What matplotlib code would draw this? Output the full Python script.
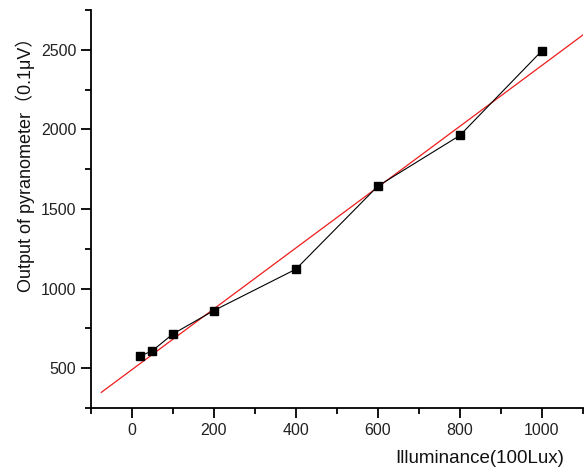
import numpy as np
import matplotlib.pyplot as plt
from matplotlib.ticker import MultipleLocator

# data
illuminance = [20, 50, 100, 200, 400, 600, 800, 1000]
output = [575, 610, 715, 862, 1122, 1644, 1962, 2494]
fit_range = [-75, 1100]

plt.rcParams['font.family'] = ['Liberation Sans', 'Noto Sans CJK SC', 'DejaVu Sans']

fig = plt.figure(figsize=(5.87, 4.76), dpi=100)
ax = fig.add_axes([0.155, 0.143, 0.838, 0.836])

# linear fit
slope, intercept = np.polyfit(illuminance, output, 1)
fx = np.array(fit_range)
ax.plot(fx, slope * fx + intercept, color='#ee1c1c', linewidth=0.9, zorder=2)

ax.plot(illuminance, output, color='black', linewidth=0.8, marker='s',
        markersize=6, markerfacecolor='black', zorder=3)

ax.set_xlim(-100, 1100)
ax.set_ylim(250, 2750)
ax.xaxis.set_minor_locator(MultipleLocator(100))
ax.yaxis.set_minor_locator(MultipleLocator(250))
ax.set_xticks([0, 200, 400, 600, 800, 1000])
ax.set_yticks([500, 1000, 1500, 2000, 2500])

for s in ['top', 'right']:
    ax.spines[s].set_visible(False)
for s in ['left', 'bottom']:
    ax.spines[s].set_linewidth(1.3)

ax.tick_params(which='major', direction='out', length=7, width=1.3,
               labelsize=11.5, colors='black', labelcolor='#222222')
ax.tick_params(which='minor', direction='out', length=4, width=1.3)

ax.set_xlabel('Illuminance(100Lux)', fontsize=13.5, color='#111111')
ax.xaxis.set_label_coords(0.79, -0.105)
ax.set_ylabel('Output of pyranometer（0.1μV）', fontsize=13, color='#111111')
ax.yaxis.set_label_coords(-0.113, 0.623)

fig.savefig('out.png', dpi=100)
